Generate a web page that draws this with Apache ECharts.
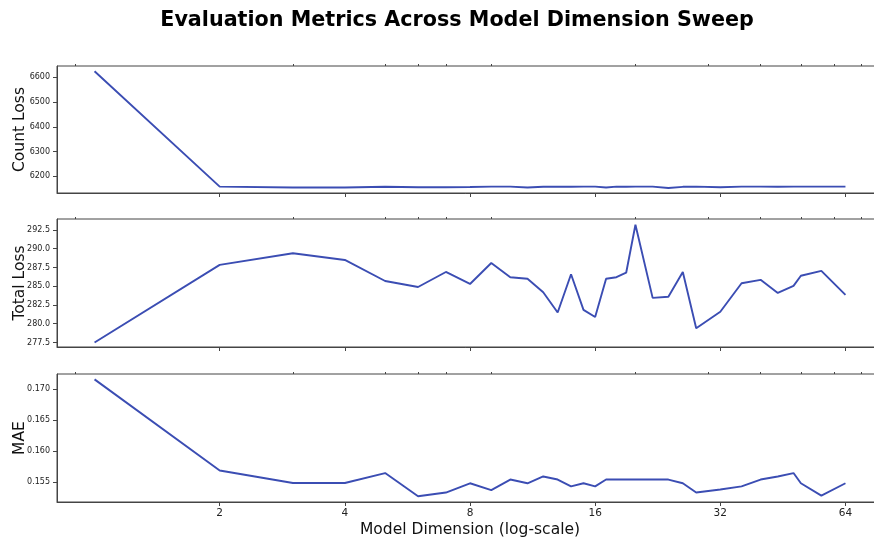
<!DOCTYPE html>
<html>
<head>
<meta charset="utf-8">
<script src="https://cdn.jsdelivr.net/npm/echarts@6/dist/echarts.min.js"></script>
<style>html,body{margin:0;padding:0;background:#fff}#c{width:874px;height:544px}</style>
</head>
<body>
<div id="c"></div>
<script>
const dims = [1,2,3,4,5,6,7,8,9,10,11,12,13,14,15,16,17,18,19,20,22,24,26,28,32,36,40,44,48,50,56,64];
const countLoss = [6625,6158,6154,6154,6157,6155,6155,6156,6158,6158,6154,6157,6157,6157,6158,6158,6154,6158,6157,6158,6158,6152,6157,6158,6155,6158,6158,6157,6158,6158,6158,6158];
const totalLoss = [277.5,287.85,289.4,288.5,285.7,284.9,286.9,285.3,288.1,286.2,286.0,284.2,281.5,286.6,281.85,280.9,286.0,286.2,286.8,293.2,283.45,283.6,286.9,279.4,281.6,285.4,285.85,284.1,285.05,286.4,287.05,283.85];
const mae = [0.1716,0.15687,0.15484,0.15484,0.15645,0.1527,0.1533,0.1548,0.1537,0.1554,0.1548,0.1559,0.1554,0.1543,0.1548,0.1543,0.1554,0.1554,0.1554,0.1554,0.1554,0.1554,0.1548,0.1533,0.1538,0.1543,0.1554,0.1559,0.15645,0.1548,0.1528,0.1548];
const xMajorTicks = [2,4,8,16,32,64];
const xMinorTicks = [0.9,3,5,6,7,9,20,30,40,50,60,70];
const countTicks = [6200,6300,6400,6500,6600];
const totalTicks = [277.5,280,282.5,285,287.5,290,292.5];
const maeTicks = [0.155,0.160,0.165,0.170];

const FONT = 'DejaVu Sans';
const AX = '#444';
const LINE = '#3b4db3';
const xMin = Math.pow(2,-0.3), xMax = Math.pow(2,6.3);

const grids = [
  {left:57, right:-9, top:66, height:127},
  {left:57, right:-9, top:219, height:128},
  {left:57, right:-9, top:374, height:128}
].map(g => Object.assign({show:true, borderColor:AX, borderWidth:1, backgroundColor:'transparent', containLabel:false, outerBoundsMode:'none'}, g));

const xAxes = [];
for (let i = 0; i < 3; i++) {
  xAxes.push({
    type:'log', logBase:2, gridIndex:i, min:xMin, max:xMax,
    axisLine:{show:true, lineStyle:{color:AX, width:1}},
    axisTick:{show:true, length:4, lineStyle:{color:AX}, customValues:xMajorTicks},
    axisLabel:{show:i===2, customValues:xMajorTicks, fontFamily:FONT, fontSize:10.5, color:'#222', margin:6},
    splitLine:{show:false},
    name: i===2 ? 'Model Dimension (log-scale)' : '',
    nameLocation:'middle', nameGap:20, nameMoveOverlap:false,
    nameTextStyle:{fontFamily:FONT, fontSize:15.5, color:'#111'}
  });
  xAxes.push({
    type:'log', logBase:2, gridIndex:i, min:xMin, max:xMax,
    axisLine:{show:false},
    axisTick:{show:true, length:2, lineStyle:{color:AX}, customValues:xMinorTicks},
    axisLabel:{show:false, customValues:xMinorTicks},
    splitLine:{show:false}
  });
}

function yAxis(i, name, min, max, ticks, fmt) {
  return {
    type:'value', gridIndex:i, min:min, max:max,
    axisLine:{show:true, lineStyle:{color:AX, width:1}},
    axisTick:{show:true, length:4, lineStyle:{color:AX}, customValues:ticks},
    axisLabel:{customValues:ticks, formatter:fmt, fontFamily:FONT, fontSize:8, color:'#222', margin:7},
    splitLine:{show:false},
    name:name, nameLocation:'middle', nameGap:29, nameRotate:90, nameMoveOverlap:false,
    nameTextStyle:{fontFamily:FONT, fontSize:15.5, color:'#111'}
  };
}

const yAxes = [
  yAxis(0, 'Count Loss', 6132, 6646, countTicks, v => String(Math.round(v))),
  yAxis(1, 'Total Loss', 276.9, 293.96, totalTicks, v => Number(v).toFixed(1)),
  yAxis(2, 'MAE', 0.15177, 0.17247, maeTicks, v => Number(v).toFixed(3))
];

function mk(vals, i) {
  return {
    type:'line', xAxisIndex:i*2, yAxisIndex:i,
    data: dims.map((d, k) => [d, vals[k]]),
    showSymbol:false, symbol:'none',
    lineStyle:{color:LINE, width:1.9},
    itemStyle:{color:LINE},
    animation:false
  };
}

const chart = echarts.init(document.getElementById('c'));
chart.setOption({
  animation:false,
  title:{text:'Evaluation Metrics Across Model Dimension Sweep', left:452, textAlign:'center', top:5,
    textStyle:{fontFamily:FONT, fontSize:20.7, fontWeight:'bold', color:'#000'}},
  grid:grids,
  xAxis:xAxes,
  yAxis:yAxes,
  series:[mk(countLoss,0), mk(totalLoss,1), mk(mae,2)]
});
</script>
</body>
</html>
